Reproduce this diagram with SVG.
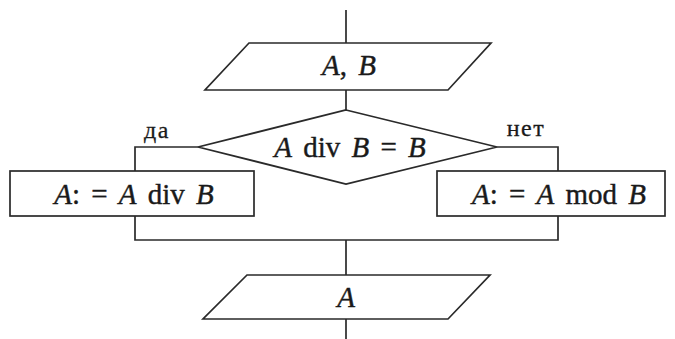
<svg xmlns="http://www.w3.org/2000/svg" width="675" height="339" viewBox="0 0 675 339">
<style>
.s{fill:none;stroke:#2a2a2a;stroke-width:1.7}
.b{fill:#fff;stroke:#2a2a2a;stroke-width:1.7}
text{font-family:'Liberation Serif','Times New Roman','DejaVu Serif',serif;fill:#1a1a1a;stroke:#1a1a1a;stroke-width:0.4;text-anchor:middle}
.t{font-size:29px;word-spacing:4px}
.i{font-style:italic}
.l{font-size:24px;letter-spacing:1.5px;stroke-width:0.3}
</style>
<rect width="675" height="339" fill="#fff"/>
<g id="connectors">
<path class="s" d="M346 10V43"/>
<path class="s" d="M346 90V110"/>
<path class="s" d="M198 147H135V171"/>
<path class="s" d="M497 147H558V171"/>
<path class="s" d="M135 216V240H558V216"/>
<path class="s" d="M346 240V275"/>
<path class="s" d="M346 319V339"/>
</g>
<g id="input">
<polygon class="b" points="249,43 491,43 448,90 205,90"/>
<text class="t" x="349" y="75"><tspan class="i">A</tspan>, <tspan class="i">B</tspan></text>
</g>
<g id="decision">
<polygon class="b" points="346,110 497,147 346,184 198,147"/>
<text class="t" x="350" y="157"><tspan class="i">A</tspan> div <tspan class="i">B</tspan> = <tspan class="i">B</tspan></text>
</g>
<g id="yes-label"><text class="l" x="157" y="138">да</text></g>
<g id="no-label"><text class="l" x="526" y="136">нет</text></g>
<g id="div-box">
<rect class="b" x="10" y="171" width="244" height="45"/>
<text class="t" x="134" y="204"><tspan class="i">A</tspan>: = <tspan class="i">A</tspan> div <tspan class="i">B</tspan></text>
</g>
<g id="mod-box">
<rect class="b" x="437" y="171" width="228" height="45"/>
<text class="t" x="559" y="204"><tspan class="i">A</tspan>: = <tspan class="i">A</tspan> mod <tspan class="i">B</tspan></text>
</g>
<g id="output">
<polygon class="b" points="247,275 490,275 448,319 203,319"/>
<text class="t i" x="346" y="307">A</text>
</g>
</svg>
